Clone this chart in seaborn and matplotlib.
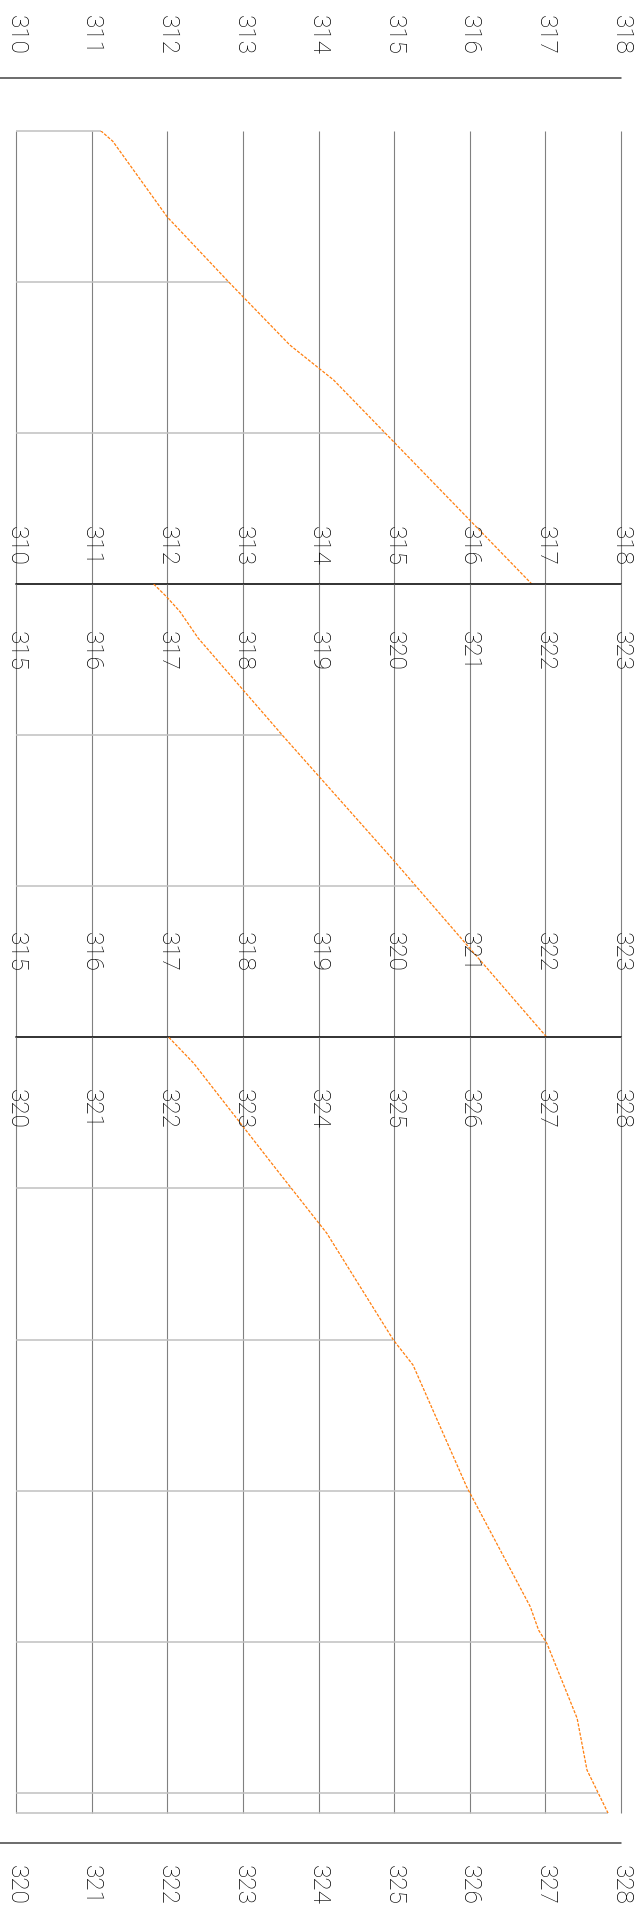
import numpy as np
import matplotlib
matplotlib.use("Agg")
import matplotlib.pyplot as plt
import seaborn as sns
from matplotlib.lines import Line2D

# ---------------- data ----------------
time = [0.0, 0.07, 0.571, 1.0, 1.418, 1.65, 2.0, 3.0,
        3.084, 3.184, 3.359, 4.011, 4.827, 6.0,
        6.172, 6.878, 7.297, 8.003, 8.169, 8.976, 9.768, 9.923,
        10.011, 10.507, 10.849, 11.136]
value = [311.12, 311.28, 312.00, 312.81, 313.62, 314.20, 314.88, 316.82,
         316.99, 317.17, 317.41, 318.54, 319.99, 322.02,
         322.35, 323.45, 324.11, 324.99, 325.25, 325.96, 326.80, 326.91,
         327.02, 327.42, 327.55, 327.83]
panel_value_ranges = [(310, 318), (315, 323), (320, 328)]
panel_time_ranges = [(0, 3), (3, 6), (6, 11.136)]
time_ticks = list(range(0, 12))

# ---------------- style ----------------
sns.set_theme(style="white")
plt.rcParams["font.family"] = ["Roboto", "DejaVu Sans"]

W, H = 641, 1907
X0, X1 = 16, 621
Y_T0, PX_PER_T = 130.7, 151.1

fig = plt.figure(figsize=(W / 100, H / 100), dpi=100)
fig.patch.set_facecolor("white")

T = np.array(time)
V = np.array(value)

LINE_COL = "#ff7f0e"
VGRID = "#808080"
HGRID = "#c0c0c0"
DARK = "#222222"
TXT = "#000000"

# label offsets (pixels, + = up) relative to panel top / bottom edges
top_offsets = [95.7, -67, -72]
bottom_offsets = [38, 85, -72]

axes = []
for i, ((v0, v1), (t0, t1)) in enumerate(zip(panel_value_ranges, panel_time_ranges)):
    top_px = Y_T0 + t0 * PX_PER_T
    bot_px = Y_T0 + t1 * PX_PER_T
    ax = fig.add_axes([X0 / W, 1 - bot_px / H, (X1 - X0) / W, (bot_px - top_px) / H])
    axes.append(ax)
    ax.set_xlim(v0, v1)
    ax.set_ylim(t1, t0)
    for s in ax.spines.values():
        s.set_visible(False)
    ax.set_facecolor("none")
    vticks = list(range(v0, v1 + 1))
    ax.set_xticks(vticks)
    ax.set_yticks([])
    ax.tick_params(length=0, labelbottom=False, labeltop=False, labelleft=False)
    ax.grid(False)
    ax.vlines(vticks, t0, t1, colors=VGRID, lw=0.8, zorder=1, clip_on=False)

    # time gridlines from the left edge to the curve
    tt = [tk for tk in time_ticks if t0 <= tk < t1 and not (i > 0 and tk == t0)]
    if i == len(panel_time_ranges) - 1:
        tt = tt + [t1]
    for tk in tt:
        ax.hlines(tk, v0, np.interp(tk, T, V), colors=HGRID, lw=1.1, zorder=1, clip_on=False)

    sns.lineplot(x=V, y=T, orient="y", sort=False, estimator=None, ax=ax,
                 color=LINE_COL, lw=0.9, linestyle=(0, (2.5, 1.2)), zorder=3)
    ax.set_xlabel("")
    ax.set_ylabel("")

    if i < len(panel_time_ranges) - 1:
        ax.axhline(t1, color=DARK, lw=1.3, zorder=4, clip_on=False)

    for v in vticks:
        for yfrac, off in ((1, top_offsets[i]), (0, bottom_offsets[i])):
            ax.annotate(str(v), xy=(v, yfrac), xycoords=("data", "axes fraction"),
                        xytext=(0, off), textcoords="offset pixels",
                        rotation=-90, ha="center", va="center",
                        fontsize=17.5, fontweight="light", color=TXT,
                        annotation_clip=False, zorder=5)

# outer rules
fig.add_artist(Line2D([0, X1 / W], [1 - 78 / H] * 2, color="#444444", lw=1.1))
fig.add_artist(Line2D([0, X1 / W], [1 - 1843 / H] * 2, color="#444444", lw=1.1))

fig.savefig("out.png", dpi=100, facecolor="white")
